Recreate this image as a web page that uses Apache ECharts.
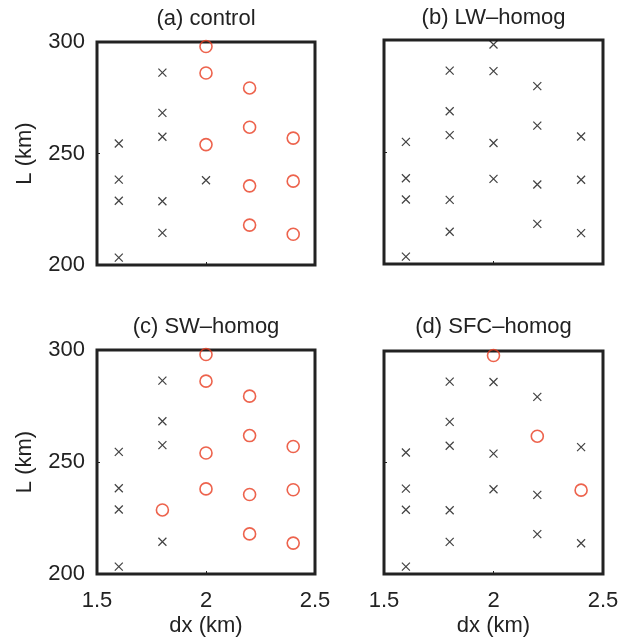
<!DOCTYPE html>
<html lang="en">
<head>
    <meta charset="UTF-8">
    <title>L vs dx</title>
    <script src="https://cdn.jsdelivr.net/npm/echarts@6/dist/echarts.min.js"></script>
</head>
<body style="margin:0;background:#fff">
    <div id="box" style="width:632px;height:643px"></div>
<script>
    // the 20 runs: grid spacing dx and domain length L
    const dx = [1.6, 1.6, 1.6, 1.6,
        1.8, 1.8, 1.8, 1.8, 1.8,
        2.0, 2.0, 2.0, 2.0,
        2.2, 2.2, 2.2, 2.2,
        2.4, 2.4, 2.4];
    const L = [254.5, 238.3, 228.8, 203.3,
        286.3, 268.2, 257.5, 228.6, 214.4,
        298, 286.1, 254, 238,
        279.4, 261.8, 235.5, 217.9,
        256.9, 237.6, 213.8];
    // 1 = red circle, 0 = black cross
    const ctrlFlag = [0, 0, 0, 0, 0, 0, 0, 0, 0, 1, 1, 1, 0, 1, 1, 1, 1, 1, 1, 1];
    const lwFlag = [0, 0, 0, 0, 0, 0, 0, 0, 0, 0, 0, 0, 0, 0, 0, 0, 0, 0, 0, 0];
    const swFlag = [0, 0, 0, 0, 0, 0, 0, 1, 0, 1, 1, 1, 1, 1, 1, 1, 1, 1, 1, 1];
    const sfcFlag = [0, 0, 0, 0, 0, 0, 0, 0, 0, 1, 0, 0, 0, 0, 1, 0, 0, 0, 1, 0];
    const panelTitles = ["(a) control", "(b) LW\u2013homog", "(c) SW\u2013homog", "(d) SFC\u2013homog"];
    const xTicks = [1.5, 2, 2.5];
    const yTicks = [200, 250, 300];

    const flags = [ctrlFlag, lwFlag, swFlag, sfcFlag];
    const font = "'Liberation Sans', Arial, sans-serif";
    const ink = '#222';
    const fs = 22;

    const grids = [
        { left: 97, top: 42, width: 218, height: 223 },
        { left: 384, top: 40, width: 219, height: 224 },
        { left: 97, top: 350, width: 218, height: 224 },
        { left: 384, top: 351, width: 219, height: 223 },
    ];
    const titleY = [8, 7, 316, 316];

    var myChart = echarts.init(document.getElementById('box'));

    var xAxes = [], yAxes = [], series = [], graphic = [];
    grids.forEach((g, i) => {
        g.show = true;
        g.borderColor = ink;
        g.borderWidth = 3;
        g.backgroundColor = 'transparent';
        let bottomRow = i >= 2, leftCol = i % 2 == 0;
        xAxes.push({
            type: 'value', gridIndex: i,
            min: xTicks[0], max: xTicks[2], interval: 0.5,
            axisLine: { show: false },
            axisTick: { show: true, inside: true, length: 3, lineStyle: { color: ink } },
            splitLine: { show: false },
            axisLabel: { show: bottomRow, fontSize: fs, color: ink, fontFamily: font, margin: 16 },
            name: bottomRow ? 'dx (km)' : '',
            nameLocation: 'middle', nameGap: 41,
            nameTextStyle: { fontSize: fs, color: ink, fontFamily: font },
        });
        yAxes.push({
            type: 'value', gridIndex: i,
            min: yTicks[0], max: yTicks[2], interval: 50,
            axisLine: { show: false },
            axisTick: { show: true, inside: true, length: 3, lineStyle: { color: ink } },
            splitLine: { show: false },
            axisLabel: { show: leftCol, fontSize: fs, color: ink, fontFamily: font, margin: 12 },
            name: leftCol ? 'L (km)' : '',
            nameLocation: 'middle', nameGap: 61,
            nameTextStyle: { fontSize: fs, color: ink, fontFamily: font },
        });
        let crosses = [], circles = [];
        dx.forEach((x, k) => {
            (flags[i][k] ? circles : crosses).push([x, L[k]]);
        });
        series.push({
            type: 'scatter', xAxisIndex: i, yAxisIndex: i,
            data: crosses,
            symbol: 'path://M0,0L10,10M10,0L0,10',
            symbolSize: 8,
            itemStyle: { color: 'none', borderColor: '#111', borderWidth: 1.2 },
            silent: true,
        });
        series.push({
            type: 'scatter', xAxisIndex: i, yAxisIndex: i,
            data: circles,
            symbol: 'circle',
            symbolSize: 12,
            itemStyle: { color: 'rgba(0,0,0,0)', borderColor: '#e83c20', borderWidth: 1.6 },
            silent: true,
        });
        graphic.push({
            type: 'text',
            x: g.left + g.width / 2,
            y: titleY[i],
            style: { text: panelTitles[i], font: fs + 'px ' + font, fill: ink, textAlign: 'center' },
        });
    });

    myChart.setOption({
        animation: false,
        grid: grids,
        xAxis: xAxes,
        yAxis: yAxes,
        series: series,
        graphic: graphic,
    });
</script>
</body>
</html>
